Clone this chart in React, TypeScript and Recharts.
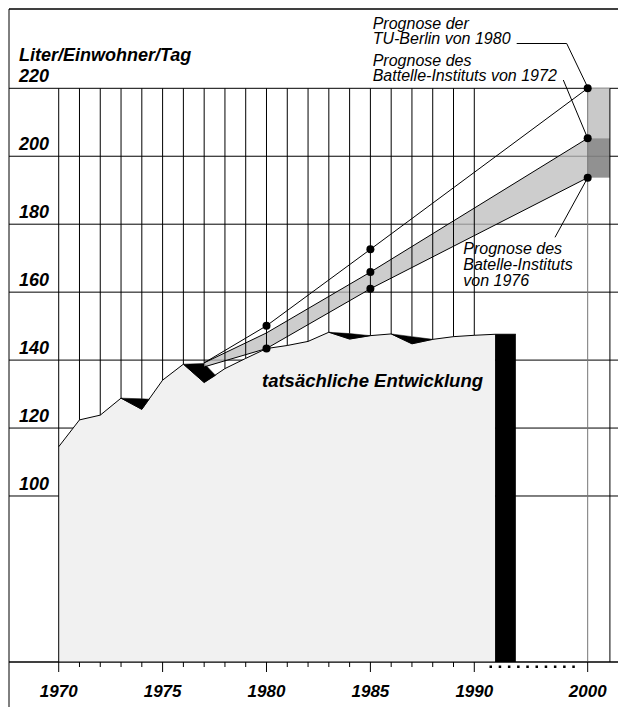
import React from 'react';
import {
  ComposedChart,
  Area,
  Line,
  XAxis,
  YAxis,
  CartesianGrid,
  ReferenceLine,
  ReferenceArea,
} from 'recharts';

// ---------- data ----------
const actualYears = [1970, 1971, 1972, 1973, 1974, 1975, 1976, 1977, 1978, 1979, 1980, 1981, 1982, 1983, 1984, 1985, 1986, 1987, 1988, 1989, 1990, 1991];
const actualValues = [114.5, 122.4, 123.8, 128.8, 125.5, 134.1, 138.8, 133.4, 137.5, 140.5, 143.4, 144.3, 145.5, 148.2, 146.2, 147.2, 147.7, 144.8, 146.1, 146.9, 147.3, 147.6];

// black "drop" wedges: [year, low, high]
const wedge1 = [[1973, 128.8, 128.8], [1974, 125.5, 128.6], [1974.35, 128.5, 128.5]];
const wedge2 = [[1976, 138.8, 138.8], [1977, 133.4, 139.0], [1977.55, 135.5, 135.5]];
const wedge3 = [[1983, 148.2, 148.2], [1984, 146.2, 147.8], [1985, 147.2, 147.2]];
const wedge4 = [[1986, 147.7, 147.7], [1987, 144.8, 146.9], [1988, 146.1, 146.1]];
const wedges = [wedge1, wedge2, wedge3, wedge4];

const barYears = [1991, 1992];
const barValue = 147.6;

const forecastYears = [1977, 1980, 1985, 2000];
const battelle1972 = [139.2, 148.0, 165.9, 205.3];
const battelle1976 = [138.0, 143.4, 161.0, 193.7];
const tuBerlin1980 = [139.2, 150.1, 172.6, 220.0];

const dotYears = [1980, 1980, 1985, 1985, 1985, 2000, 2000, 2000];
const dotValues = [150.1, 143.4, 172.6, 165.9, 161.0, 220.0, 205.3, 193.7];

const yTicks = [100, 120, 140, 160, 180, 200, 220];
const gridYears = [1970, 1971, 1972, 1973, 1974, 1975, 1976, 1977, 1978, 1979, 1980, 1981, 1982, 1983, 1984, 1985, 1986, 1987, 1988, 1989, 1990];
const labelYears = [1970, 1975, 1980, 1985, 1990, 2000];
const tickYears = [...gridYears, 2000];

const column2000 = [2000, 2001.07];
const columnLight = [205.3, 220];
const columnDark = [193.7, 205.3];

// ---------- broken x axis ----------
const xPos = (year: number) => {
  if (year <= 1992) return year - 1970;
  if (year >= 2000) return year - 2000 + 25.457;
  return 22 + (year - 1992) * (3.457 / 8);
};
const X_DOMAIN: [number, number] = [-2.392, 26.916];
const Y_DOMAIN: [number, number] = [51.14, 243.34];
const Y_MIN = Y_DOMAIN[0];

const actualData = actualYears.map((yr, i) => ({ x: xPos(yr), y: actualValues[i] }));
const wedgeData = wedges.map((w) => w.map(([yr, lo, hi]) => ({ x: xPos(yr), r: [lo, hi] })));
const barData = barYears.map((yr) => ({ x: xPos(yr), y: barValue }));
const bandData = forecastYears.map((yr, i) => ({ x: xPos(yr), r: [battelle1976[i], battelle1972[i]] }));
const b72Data = forecastYears.map((yr, i) => ({ x: xPos(yr), y: battelle1972[i] }));
const b76Data = forecastYears.map((yr, i) => ({ x: xPos(yr), y: battelle1976[i] }));
const tuData = forecastYears.map((yr, i) => ({ x: xPos(yr), y: tuBerlin1980[i] }));
const dotData = dotYears.map((yr, i) => ({ x: xPos(yr), y: dotValues[i] }));
const colEdgeData = [{ x: xPos(column2000[1]), y: Y_MIN }, { x: xPos(column2000[1]), y: 220 }];

const gridFloor = (yr: number) => {
  if (yr === 1970) return Y_MIN;
  for (const w of wedges) {
    for (const [wy, lo, hi] of w) {
      if (wy === yr && hi > lo) return hi;
    }
  }
  const idx = actualYears.indexOf(yr);
  return idx >= 0 ? actualValues[idx] : Y_MIN;
};

const FONT = '"Liberation Sans", Arial, Helvetica, sans-serif';

const XTick = (props: any) => {
  const { x, y, payload } = props;
  const pos = payload.value as number;
  const yr = tickYears.find((t) => Math.abs(xPos(t) - pos) < 1e-6);
  const major = yr !== undefined && labelYears.includes(yr);
  return (
    <g>
      <line x1={x} x2={x} y1={y} y2={y + (major ? 10 : 5)} stroke="#000" strokeWidth={1} />
      {major && (
        <text x={x} y={y + 35} textAnchor="middle" fontFamily={FONT} fontSize={17} fontWeight="bold" fontStyle="italic" fill="#000">
          {yr}
        </text>
      )}
    </g>
  );
};

const YTick = (props: any) => {
  const { y, payload } = props;
  return (
    <text x={19} y={y - 6} textAnchor="start" fontFamily={FONT} fontSize={18} fontWeight="bold" fontStyle="italic" fill="#000">
      {payload.value}
    </text>
  );
};

const italic = { fontFamily: FONT, fontSize: 16, fontStyle: 'italic' as const, fill: '#000' };

export default function App() {
  return (
    <div style={{ position: 'absolute', left: 0, top: 0, width: 618, height: 707, background: '#fff', overflow: 'hidden' }}>
      <ComposedChart width={618} height={707} margin={{ top: 9, right: 0, bottom: 0, left: 9 }}>
        <CartesianGrid horizontal vertical={false} stroke="#000" strokeWidth={1} />
        <XAxis
          type="number"
          dataKey="x"
          domain={X_DOMAIN}
          allowDataOverflow
          ticks={tickYears.map(xPos)}
          interval={0}
          height={45}
          tickSize={0}
          tickMargin={0}
          tickLine={false}
          axisLine={{ stroke: '#000', strokeWidth: 1 }}
          tick={<XTick />}
        />
        <YAxis
          type="number"
          domain={Y_DOMAIN}
          allowDataOverflow
          ticks={yTicks}
          interval={0}
          mirror
          width={60}
          tickSize={0}
          tickMargin={0}
          axisLine={false}
          tickLine={false}
          tick={<YTick />}
        />
        {gridYears.map((yr) => (
          <ReferenceLine
            key={'g' + yr}
            segment={[{ x: xPos(yr), y: gridFloor(yr) }, { x: xPos(yr), y: 220 }]}
            stroke="#000"
            strokeWidth={1}
          />
        ))}
        <ReferenceLine segment={[{ x: xPos(2000), y: Y_MIN }, { x: xPos(2000), y: 220 }]} stroke="#777" strokeWidth={1} />
        <ReferenceArea x1={xPos(column2000[0])} x2={xPos(column2000[1])} y1={columnLight[0]} y2={columnLight[1]} fill="#c9c9c9" fillOpacity={1} stroke="none" />
        <ReferenceArea x1={xPos(column2000[0])} x2={xPos(column2000[1])} y1={columnDark[0]} y2={columnDark[1]} fill="#858585" fillOpacity={0.9} stroke="none" />

        <Area data={actualData} dataKey="y" type="linear" fill="#f1f1f1" fillOpacity={1} stroke="#000" strokeWidth={1} isAnimationActive={false} />
        {wedgeData.map((d, i) => (
          <Area key={'w' + i} data={d} dataKey="r" type="linear" fill="#000" fillOpacity={1} stroke="#000" strokeWidth={0.5} isAnimationActive={false} />
        ))}
        <Area data={barData} dataKey="y" type="linear" fill="#000" fillOpacity={1} stroke="#000" strokeWidth={1} isAnimationActive={false} />
        <Area data={bandData} dataKey="r" type="linear" fill="#bcbcbc" fillOpacity={0.75} stroke="none" isAnimationActive={false} />
        <Line data={colEdgeData} dataKey="y" type="linear" stroke="#000" strokeWidth={1} dot={false} isAnimationActive={false} />
        <Line data={b72Data} dataKey="y" type="linear" stroke="#000" strokeWidth={1} dot={false} isAnimationActive={false} />
        <Line data={b76Data} dataKey="y" type="linear" stroke="#000" strokeWidth={1} dot={false} isAnimationActive={false} />
        <Line data={tuData} dataKey="y" type="linear" stroke="#000" strokeWidth={1} dot={false} isAnimationActive={false} />
        <Line
          data={dotData}
          dataKey="y"
          type="linear"
          stroke="none"
          dot={{ r: 4, fill: '#000', stroke: 'none' }}
          activeDot={false}
          isAnimationActive={false}
        />
      </ComposedChart>

      <svg width={618} height={707} style={{ position: 'absolute', left: 0, top: 0, pointerEvents: 'none' }}>
        {/* frame */}
        <line x1={9} y1={9} x2={618} y2={9} stroke="#000" strokeWidth={1} />
        <line x1={9} y1={9} x2={9} y2={707} stroke="#000" strokeWidth={1} />
        {/* axis break dots */}
        <line x1={489.5} y1={666.7} x2={575} y2={666.7} stroke="#000" strokeWidth={2.5} strokeDasharray="2.5 6.7" />
        {/* leader lines */}
        <polyline points="516.7,43.5 566.7,43.5 587.7,87.3" fill="none" stroke="#000" strokeWidth={1} />
        <line x1={563.3} y1={80} x2={587.7} y2={138.3} stroke="#000" strokeWidth={1} />
        <line x1={555} y1={237.3} x2={587.7} y2={177.7} stroke="#000" strokeWidth={1} />
        {/* texts */}
        <text x={19} y={61} fontFamily={FONT} fontSize={18} fontWeight="bold" fontStyle="italic" fill="#000">
          Liter/Einwohner/Tag
        </text>
        <text x={372.7} y={28.5} {...italic}>Prognose der</text>
        <text x={372.7} y={43.5} {...italic}>TU-Berlin von 1980</text>
        <text x={372.7} y={66} {...italic}>Prognose des</text>
        <text x={372.7} y={80.5} {...italic}>Battelle-Instituts von 1972</text>
        <text x={463.3} y={254} {...italic}>Prognose des</text>
        <text x={463.3} y={270} {...italic}>Batelle-Instituts</text>
        <text x={463.3} y={286} {...italic}>von 1976</text>
        <text x={262} y={387} fontFamily={FONT} fontSize={18.5} fontWeight="bold" fontStyle="italic" fill="#000">
          tatsächliche Entwicklung
        </text>
      </svg>
    </div>
  );
}
